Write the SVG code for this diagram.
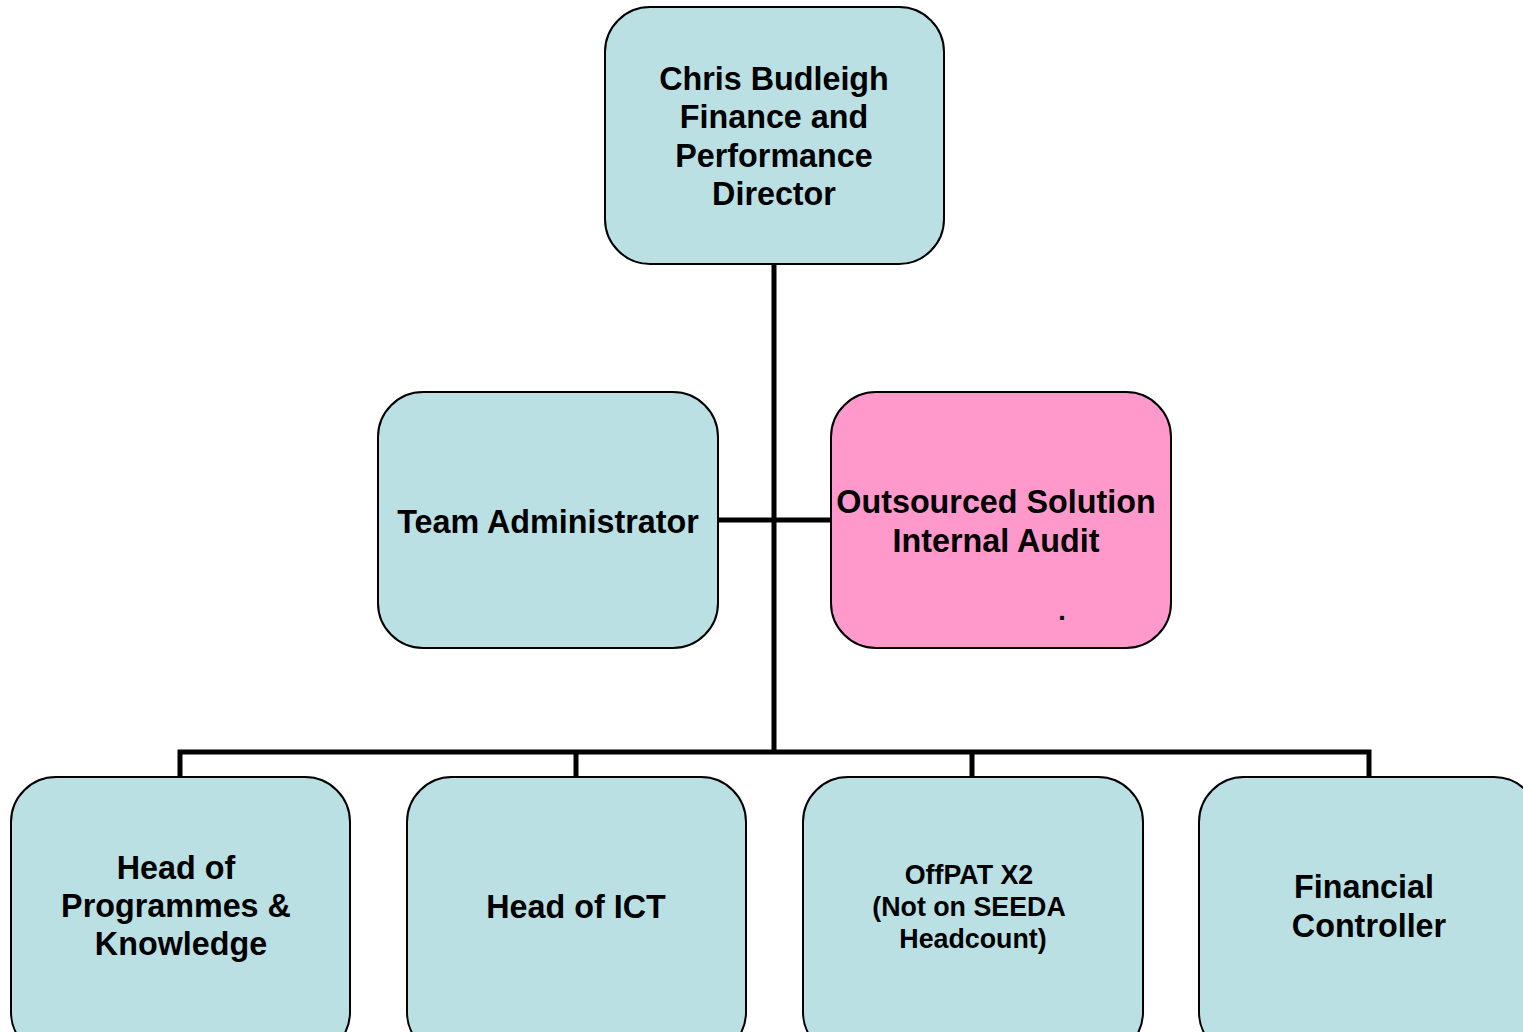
<svg xmlns="http://www.w3.org/2000/svg" width="1523" height="1032" viewBox="0 0 1523 1032">
<style>
.box{fill:#BAE0E3;stroke:#000;stroke-width:2}
.pink{fill:#FF99CC;stroke:#000;stroke-width:2}
.t{font-family:"Liberation Sans",Arial,sans-serif;font-weight:bold;font-size:32.3px;fill:#000;text-anchor:middle}
.s{font-size:26.8px}
.ln{stroke:#000;stroke-width:5;fill:none}
</style>
<rect width="1523" height="1032" fill="#fff"/>
<g id="connectors">
<line class="ln" x1="774" y1="264" x2="774" y2="754"/>
<line class="ln" x1="718" y1="520" x2="831" y2="520"/>
<polyline class="ln" points="180,777 180,752 1369,752 1369,777"/>
<line class="ln" x1="576" y1="752" x2="576" y2="777"/>
<line class="ln" x1="972" y1="752" x2="972" y2="777"/>
</g>
<g id="director">
<rect class="box" x="605" y="7" width="339" height="257" rx="45"/>
<text class="t" x="774" y="90">Chris Budleigh</text>
<text class="t" x="774" y="128">Finance and</text>
<text class="t" x="774" y="167">Performance</text>
<text class="t" x="774" y="205">Director</text>
</g>
<g id="team-admin">
<rect class="box" x="378" y="392" width="340" height="256" rx="45"/>
<text class="t" x="548" y="533">Team Administrator</text>
</g>
<g id="internal-audit">
<rect class="pink" x="831" y="392" width="340" height="256" rx="45"/>
<text class="t" x="996" y="513">Outsourced Solution</text>
<text class="t" x="996" y="552">Internal Audit</text>
<text class="t s" x="1062" y="620">.</text>
</g>
<g id="head-programmes">
<rect class="box" x="11" y="777" width="339" height="280" rx="45"/>
<text class="t" x="176" y="879">Head of</text>
<text class="t" x="176" y="917">Programmes &amp;</text>
<text class="t" x="181" y="955">Knowledge</text>
</g>
<g id="head-ict">
<rect class="box" x="407" y="777" width="339" height="280" rx="45"/>
<text class="t" x="576" y="918">Head of ICT</text>
</g>
<g id="offpat">
<rect class="box" x="803" y="777" width="340" height="280" rx="45"/>
<text class="t s" x="969" y="884">OffPAT X2</text>
<text class="t s" x="969" y="916">(Not on SEEDA</text>
<text class="t s" x="973" y="948">Headcount)</text>
</g>
<g id="financial-controller">
<rect class="box" x="1199" y="777" width="340" height="280" rx="45"/>
<text class="t" x="1364" y="898">Financial</text>
<text class="t" x="1369" y="937">Controller</text>
</g>
</svg>
